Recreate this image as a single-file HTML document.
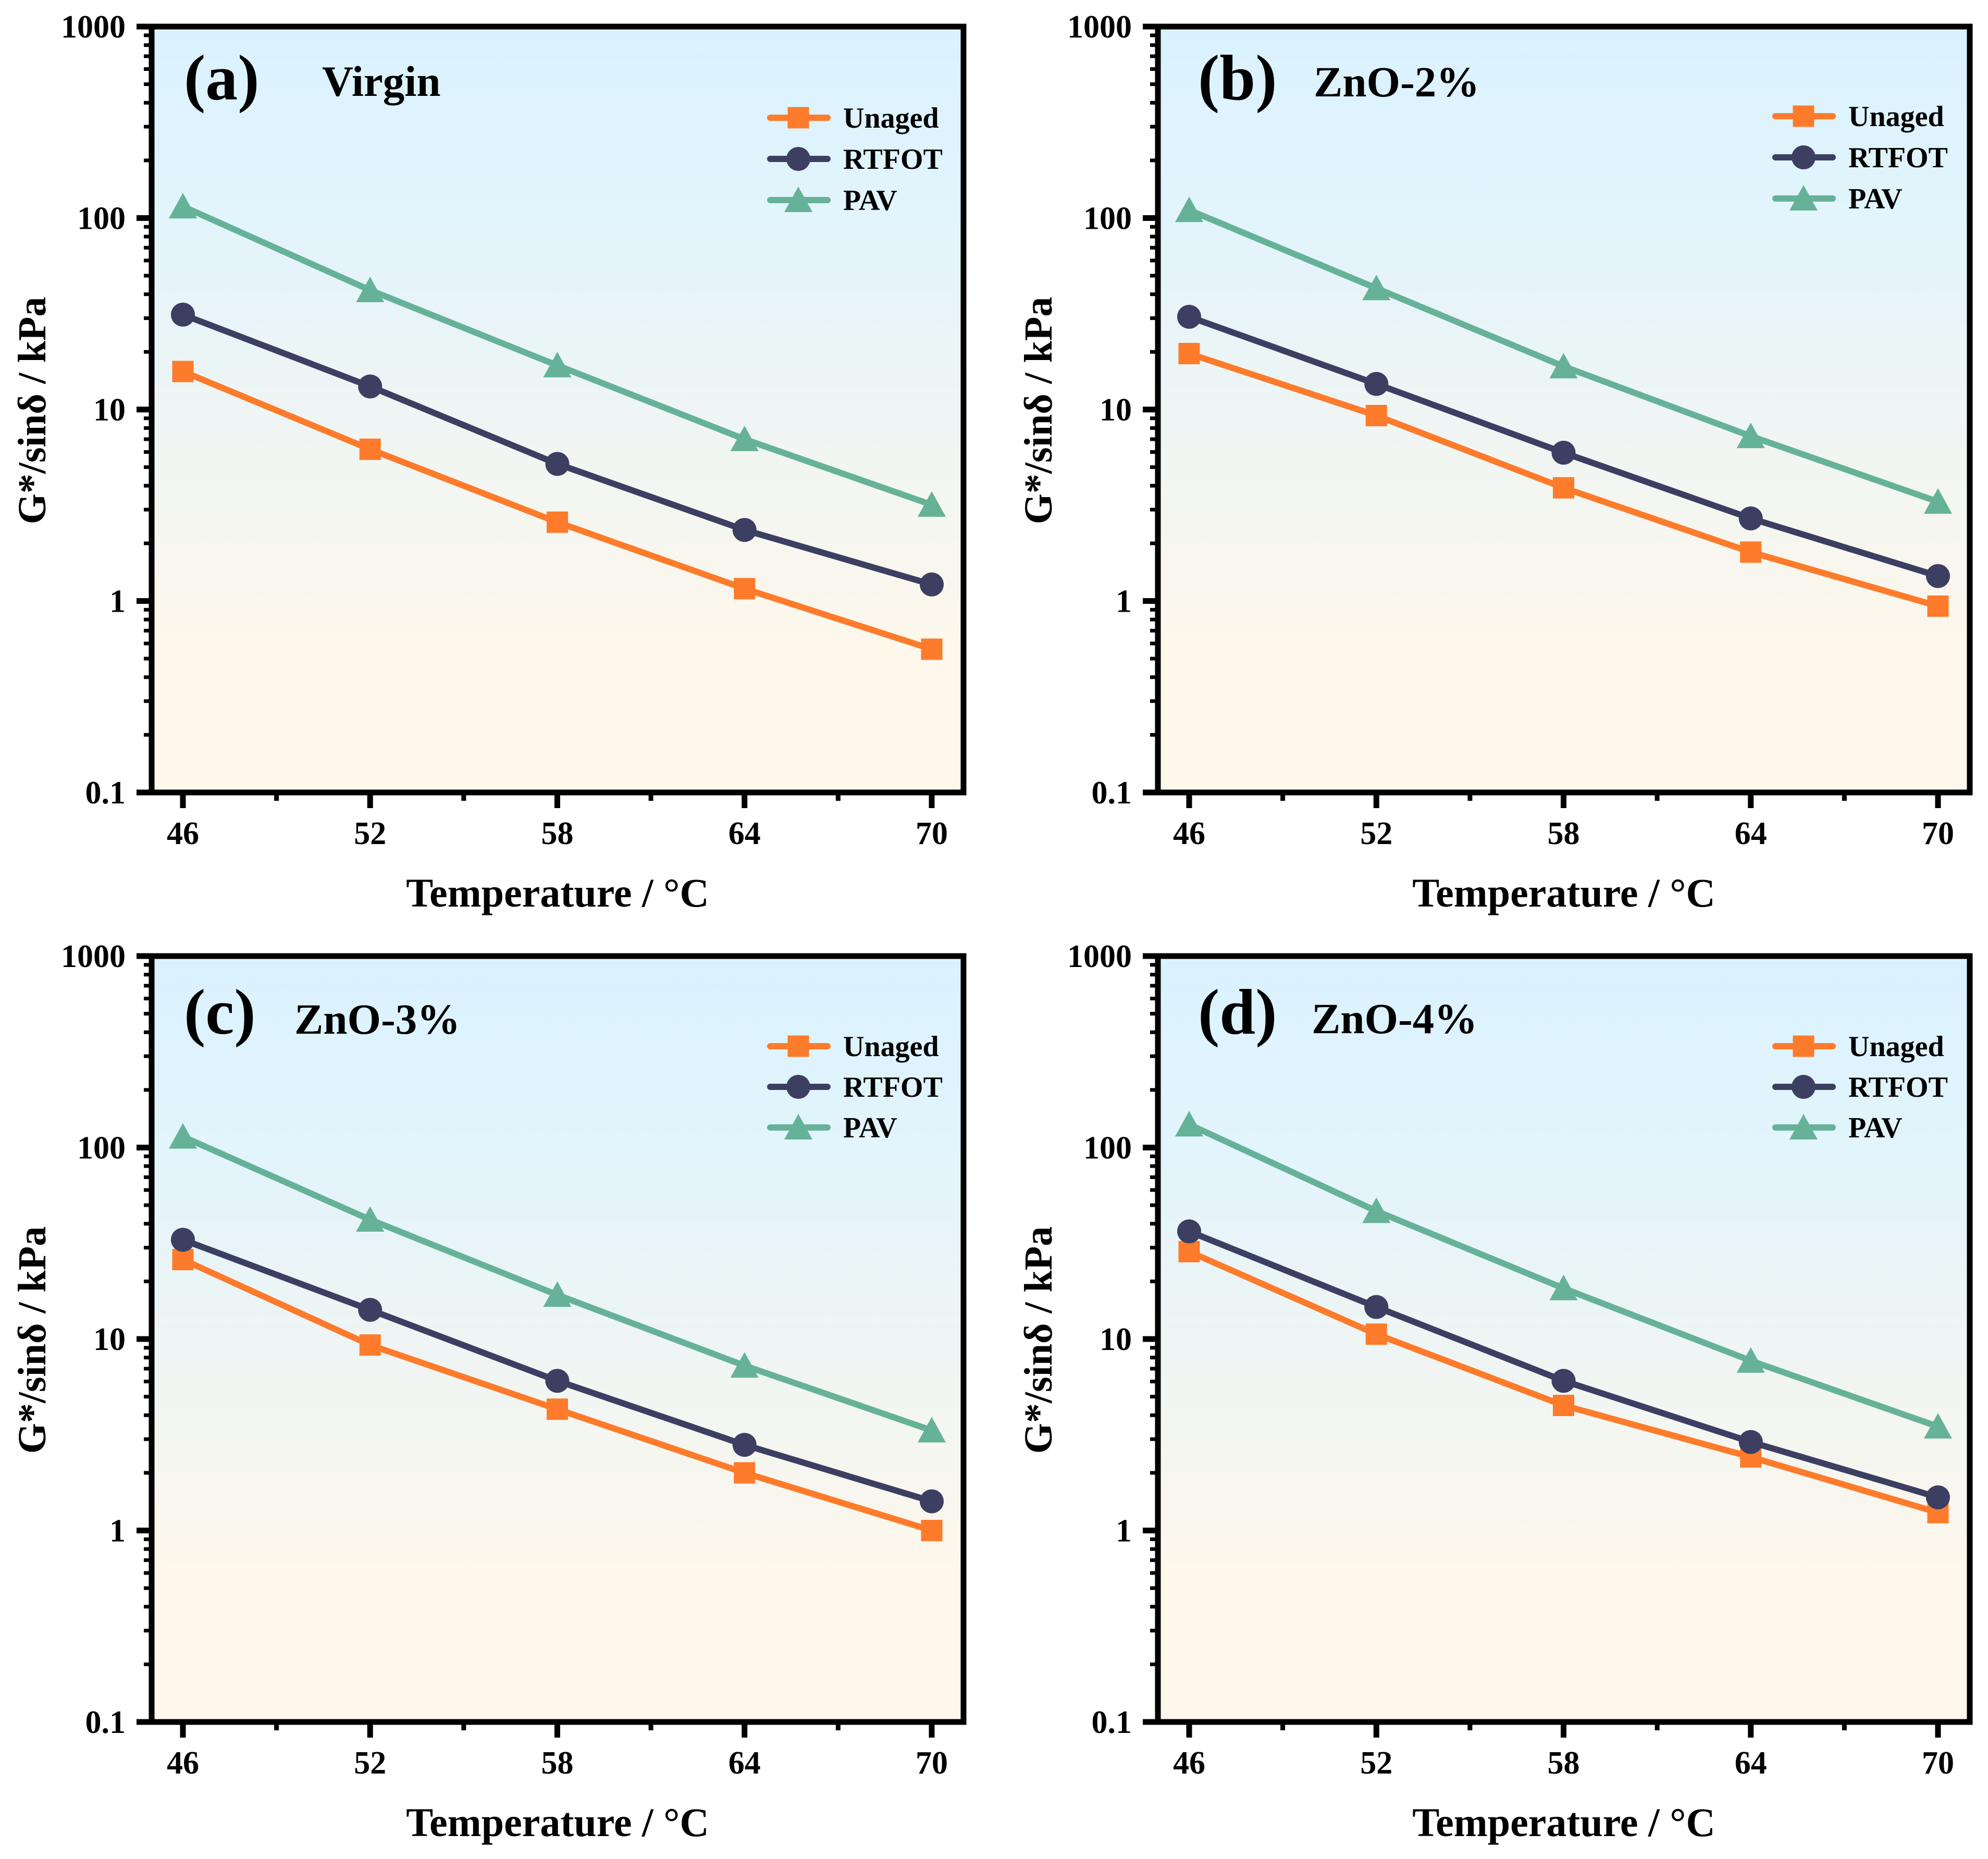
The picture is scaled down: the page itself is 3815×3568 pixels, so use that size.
<!DOCTYPE html>
<html lang="en">
<head>
<meta charset="utf-8">
<title>G*/sinδ versus temperature</title>
<style>
html,body{margin:0;padding:0;background:#fff;}
svg{display:block;}
text{font-family:"Liberation Serif","Times New Roman",serif;font-weight:bold;fill:#000;}
</style>
</head>
<body>
<svg id="figure" xmlns="http://www.w3.org/2000/svg" width="3815" height="3568" viewBox="0 0 3815 3568">
  <defs>
    <linearGradient id="plotBg" x1="0" y1="0" x2="0" y2="1">
      <stop offset="0" stop-color="#daf2ff"/>
      <stop offset="0.25" stop-color="#e2f4fc"/>
      <stop offset="0.5" stop-color="#eef5f4"/>
      <stop offset="0.8" stop-color="#fdf7ec"/>
      <stop offset="1" stop-color="#fdf7ec"/>
    </linearGradient>
  </defs>
</svg>
<script>
// ---- data ----
const temperatures = [46, 52, 58, 64, 70];
const xMinorTicks = [49, 55, 61, 67];
const yTickValues = [1000, 100, 10, 1, 0.1];
const yTickLabels = ["1000", "100", "10", "1", "0.1"];
const seriesNames = ["Unaged", "RTFOT", "PAV"];

const unagedA = [15.8, 6.2, 2.58, 1.16, 0.56];
const rtfotA  = [31.3, 13.2, 5.2, 2.35, 1.22];
const pavA    = [115, 42, 17, 7.0, 3.18];

const unagedB = [19.6, 9.3, 3.9, 1.8, 0.94];
const rtfotB  = [30.5, 13.6, 5.95, 2.7, 1.35];
const pavB    = [110, 43, 16.8, 7.26, 3.3];

const unagedC = [26, 9.3, 4.3, 2.0, 1.0];
const rtfotC  = [33, 14.2, 6.05, 2.8, 1.42];
const pavC    = [114, 42, 17, 7.26, 3.33];

const unagedD = [28.6, 10.6, 4.5, 2.42, 1.24];
const rtfotD  = [36.5, 14.7, 6.05, 2.9, 1.49];
const pavD    = [132, 46.6, 18.4, 7.7, 3.49];

// ---- panel layout ----
const panels = [
  {id:"a", label:"(a)", title:"Virgin", ox:0, oy:0, series:[unagedA,rtfotA,pavA],
   labelX:353, labelBase:140, titleX:618, titleBase:133, legX:0, legY:[175,254,333]},
  {id:"b", label:"(b)", title:"ZnO-2%", ox:1931, oy:0, series:[unagedB,rtfotB,pavB],
   labelX:2299, labelBase:140, titleX:2521, titleBase:134, legX:-2, legY:[172,251,330]},
  {id:"c", label:"(c)", title:"ZnO-3%", ox:0, oy:1784, series:[unagedC,rtfotC,pavC],
   labelX:353, labelBase:149, titleX:565, titleBase:149, legX:0, legY:[173,251,329]},
  {id:"d", label:"(d)", title:"ZnO-4%", ox:1931, oy:1784, series:[unagedD,rtfotD,pavD],
   labelX:2299, labelBase:149, titleX:2517, titleBase:148, legX:-2, legY:[173,251,329]}
];

const NS = "http://www.w3.org/2000/svg";
const svg = document.getElementById("figure");
const LEFT = 291, RIGHT = 1849, TOP = 51, BOTTOM = 1521, DECADE = 367.5;
const COLORS = ["#fd7b2b", "#3c3f62", "#66b299"];

function mk(tag, attrs, parent) {
  const el = document.createElementNS(NS, tag);
  for (const k in attrs) el.setAttribute(k, attrs[k]);
  parent.appendChild(el);
  return el;
}
function xScale(t) { return 351 + (t - 46) * 59.875; }
function yScale(v) { return TOP + (3 - Math.log10(v)) * DECADE; }

function drawMarker(kind, cx, cy, color, parent) {
  let m;
  if (kind === 0) {
    m = mk("rect", {x:cx-20.5, y:cy-20.5, width:41, height:41, fill:color}, parent);
  } else if (kind === 1) {
    m = mk("circle", {cx:cx, cy:cy, r:23, fill:color}, parent);
  } else {
    m = mk("polygon", {points:(cx)+","+(cy-26)+" "+(cx-27)+","+(cy+23)+" "+(cx+27)+","+(cy+23), fill:color}, parent);
  }
  return m;
}

panels.forEach(function (p) {
  const g = mk("g", {transform:"translate("+p.ox+","+p.oy+")"}, svg);
  
  

  const bg = mk("rect", {x:LEFT, y:TOP, width:RIGHT-LEFT, height:BOTTOM-TOP, fill:"url(#plotBg)"}, g);
  
  

  // series
  p.series.forEach(function (values, s) {
    const sg = mk("g", {}, g);
    
    
    const pts = values.map(function (v, i) { return xScale(temperatures[i]) + "," + yScale(v); }).join(" ");
    const line = mk("polyline", {points:pts, fill:"none", stroke:COLORS[s], "stroke-width":12, "stroke-linejoin":"round"}, sg);
    
    
    values.forEach(function (v, i) {
      const m = drawMarker(s, xScale(temperatures[i]), yScale(v), COLORS[s], sg);
      
      
    });
  });

  // y ticks
  yTickValues.forEach(function (v, i) {
    const y = yScale(v);
    const t = mk("line", {x1:262, x2:LEFT, y1:y, y2:y, stroke:"#000", "stroke-width":11}, g);
    
    
    const lb = mk("text", {x:241, y:y+21, "text-anchor":"end", "font-size":62}, g);
    lb.textContent = yTickLabels[i];
    
    
    if (v > 0.1) {
      for (let k = 2; k <= 9; k++) {
        const my = yScale(v / 10 * k);
        const mt = mk("line", {x1:276, x2:LEFT, y1:my, y2:my, stroke:"#000", "stroke-width":7}, g);
        
        
      }
    }
  });

  // x ticks
  temperatures.forEach(function (t) {
    const x = xScale(t);
    const tk = mk("line", {x1:x, x2:x, y1:BOTTOM, y2:BOTTOM+30, stroke:"#000", "stroke-width":11}, g);
    
    
    const lb = mk("text", {x:x, y:BOTTOM+99, "text-anchor":"middle", "font-size":62}, g);
    lb.textContent = String(t);
    
    
  });
  xMinorTicks.forEach(function (t) {
    const x = xScale(t);
    const tk = mk("line", {x1:x, x2:x, y1:BOTTOM, y2:BOTTOM+16, stroke:"#000", "stroke-width":9}, g);
    
    
  });

  // frame
  const frame = mk("rect", {x:LEFT, y:TOP, width:RIGHT-LEFT, height:BOTTOM-TOP, fill:"none", stroke:"#000", "stroke-width":11}, g);
  
  

  // axis titles
  const xt = mk("text", {x:(LEFT+RIGHT)/2, y:1740, "text-anchor":"middle", "font-size":78}, g);
  xt.textContent = "Temperature / °C";
  
  
  const yt = mk("text", {x:0, y:0, "text-anchor":"middle", "font-size":76, transform:"translate(87,788) rotate(-90)"}, g);
  yt.textContent = "G*/sinδ / kPa";
  
  

  // legend
  const lg = mk("g", {transform:"translate("+p.legX+",0)"}, g);
  
  
  seriesNames.forEach(function (name, s) {
    const y = TOP + p.legY[s];
    const en = mk("g", {}, lg);
    
    
    mk("line", {x1:1478, x2:1588, y1:y, y2:y, stroke:COLORS[s], "stroke-width":12, "stroke-linecap":"round"}, en);
    drawMarker(s, 1532, y, COLORS[s], en);
    const tx = mk("text", {x:1618, y:y+19, "font-size":56}, en);
    tx.textContent = name;
  });
});

// panel letters and titles sit in page coordinates (x) and panel-relative baselines
panels.forEach(function (p) {
  const lab = mk("text", {x:p.labelX, y:TOP + p.oy + p.labelBase, "font-size":124}, svg);
  lab.textContent = p.label;
  
  
  const ti = mk("text", {x:p.titleX, y:TOP + p.oy + p.titleBase, "font-size":83}, svg);
  ti.textContent = p.title;
  
  
});
</script>
</body>
</html>
